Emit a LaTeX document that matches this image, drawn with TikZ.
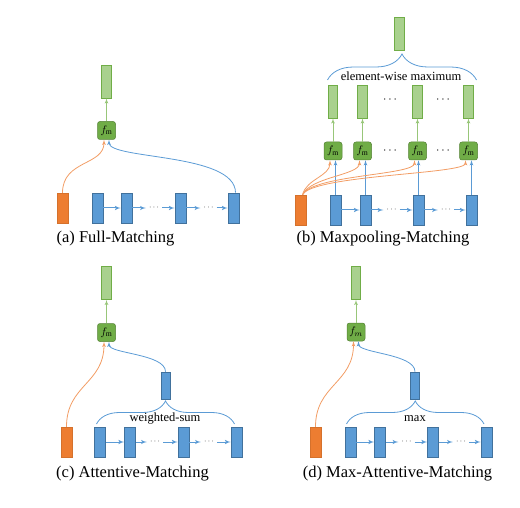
\documentclass[tikz,border=0pt]{standalone}
\usepackage{fontspec}
\setmainfont{Liberation Serif}
\usepackage{tikz}
\usetikzlibrary{arrows, positioning, decorations.pathreplacing}
\definecolor{qorange}{HTML}{ED7D31}
\definecolor{pblue}{HTML}{5B9BD5}
\definecolor{pblueline}{HTML}{41719C}
\definecolor{fmgreen}{HTML}{70AD47}
\definecolor{fmline}{HTML}{548235}
\definecolor{outgreen}{HTML}{A9D18E}
\tikzset{
	qvec/.style={
			rectangle, fill=qorange, draw=qorange!90!black, line width=0.4pt,
			minimum width=11pt, minimum height=30pt, inner sep=0pt},
	pvec/.style={
			rectangle, fill=pblue, draw=pblueline, line width=0.6pt,
			minimum width=11pt, minimum height=30pt, inner sep=0pt},
	avec/.style={pvec, minimum width=9pt, minimum height=27pt},
	outvec/.style={
			rectangle, fill=outgreen, draw=fmgreen, line width=0.6pt,
			minimum width=9.5pt, minimum height=33pt, inner sep=0pt},
	fmbox/.style={
			rectangle, rounded corners=2.5pt, fill=fmgreen, draw=fmline, line width=0.5pt,
			minimum width=18pt, minimum height=18pt, inner sep=0pt,
			font=\fontsize{11}{11}\selectfont},
	chain/.style={->, draw=pblue, line width=1pt},
	qarrow/.style={->, draw=qorange!75!white, line width=0.8pt},
	parrow/.style={->, draw=pblue, line width=0.8pt},
	garrow/.style={->, draw=outgreen!70!fmgreen, line width=0.8pt},
	dotsnode/.style={inner sep=3pt, font=\fontsize{8}{8}\selectfont},
	bigdots/.style={inner sep=0pt, font=\fontsize{12}{12}\selectfont},
	pbrace/.style={draw=pblue, line width=0.8pt, decorate, decoration={brace, amplitude=#1}},
	bracetext/.style={inner sep=0pt, font=\fontsize{12.5}{14}\selectfont},
	caption/.style={inner sep=0pt, font=\fontsize{16.5}{18}\selectfont},
}
\begin{document}
\begin{tikzpicture} [x=1pt, y=-1pt, >=latex']
	\useasboundingbox (0,0) rectangle (520,508);

	% (a) full matching
	\node[qvec] (qa) at (62.5,208) {};
	\node[pvec] (a1) at (97.5,208) {};
	\node[pvec] (a2) at (126.5,208) {};
	\node[pvec] (a3) at (180.5,208) {};
	\node[pvec] (a4) at (233.5,208) {};
	\node[dotsnode] (da1) at (154,208) {$\cdots$};
	\node[dotsnode] (da2) at (208.5,208) {$\cdots$};
	\node[fmbox] (fa) at (106.5,130.5) {$f_{\mathrm{m}}$};
	\node[outvec] (ga) at (106.5,81.5) {};
	\node[caption] (capa) at (115.5,239) {(a) Full-Matching};
	\draw[chain] (a1) -- (a2);
	\draw[chain] (a2) -- (da1);
	\draw[chain] (da1) -- (a3);
	\draw[chain] (a3) -- (da2);
	\draw[chain] (da2) -- (a4);
	\draw[garrow] (fa) -- (ga);
	\draw[qarrow] (qa.north) .. controls +(0,-33) and +(0,26) .. ([xshift=-2.5pt]fa.south);
	\draw[parrow] ([xshift=2pt]a4.north) .. controls +(0,-40) and +(0,20) .. ([xshift=2.5pt]fa.south);

	% (b) maxpooling matching
	\node[qvec] (qb) at (300.5,210) {};
	\node[pvec] (b1) at (335.5,210) {};
	\node[pvec] (b2) at (365.5,210) {};
	\node[pvec] (b3) at (418.5,210) {};
	\node[pvec] (b4) at (471.5,210) {};
	\node[dotsnode] (db1) at (391.5,210) {$\cdots$};
	\node[dotsnode] (db2) at (446,210) {$\cdots$};
	\node[fmbox] (fb1) at (333,151) {$f_{\mathrm{m}}$};
	\node[fmbox] (fb2) at (362.5,151) {$f_{\mathrm{m}}$};
	\node[fmbox] (fb3) at (417.5,151) {$f_{\mathrm{m}}$};
	\node[fmbox] (fb4) at (468.5,151) {$f_{\mathrm{m}}$};
	\node[bigdots] (dfb1) at (390,151) {$\cdots$};
	\node[bigdots] (dfb2) at (443,151) {$\cdots$};
	\node[outvec] (gb1) at (333,101.5) {};
	\node[outvec] (gb2) at (362.5,101.5) {};
	\node[outvec] (gb3) at (417.5,101.5) {};
	\node[outvec] (gb4) at (468.5,101.5) {};
	\node[bigdots] (dgb1) at (390,100) {$\cdots$};
	\node[bigdots] (dgb2) at (443,100) {$\cdots$};
	\node[outvec] (gtop) at (399.5,33.5) {};
	\coordinate (bbl) at (327.5,80);
	\coordinate (bbr) at (476.5,80);
	\draw[pbrace=26pt] (bbl) -- (bbr);
	\node[bracetext] (ewm) at (401,76) {element-wise maximum};
	\node[caption] (capb) at (383,239) {(b) Maxpooling-Matching};
	\draw[chain] (b1) -- (b2);
	\draw[chain] (b2) -- (db1);
	\draw[chain] (db1) -- (b3);
	\draw[chain] (b3) -- (db2);
	\draw[chain] (db2) -- (b4);
	\foreach \i in {1,...,4} {
		\draw[garrow] (fb\i) -- (gb\i);
		\draw[parrow] (b\i.north) -- (b\i.north |- fb\i.south);
	}
	\draw[qarrow] ([xshift=2pt]qb.north) .. controls +(4,-16) and +(0,16) .. ([xshift=-3pt]fb1.south);
	\draw[qarrow] ([xshift=2pt]qb.north) .. controls +(8,-18) and +(0,15) .. ([xshift=-3pt]fb2.south);
	\draw[qarrow] ([xshift=2pt]qb.north) .. controls +(10,-20) and +(0,15) .. ([xshift=-3pt]fb3.south);
	\draw[qarrow] ([xshift=2pt]qb.north) .. controls +(10,-20) and +(0,14) .. ([xshift=-3pt]fb4.south);

	% (c) attentive matching
	\node[qvec] (qc) at (66.5,442) {};
	\node[pvec] (c1) at (100,442) {};
	\node[pvec] (c2) at (130,442) {};
	\node[pvec] (c3) at (183.5,442) {};
	\node[pvec] (c4) at (236.5,442) {};
	\node[dotsnode] (dc1) at (155,442) {$\cdots$};
	\node[dotsnode] (dc2) at (209,442) {$\cdots$};
	\node[fmbox] (fc) at (106.5,332.5) {$f_{\mathrm{m}}$};
	\node[outvec] (gc) at (106.5,283) {};
	\node[avec] (mc) at (165.5,385.5) {};
	\coordinate (cbl) at (96.5,424);
	\coordinate (cbr) at (234.5,424);
	\draw[pbrace=23pt] (cbl) -- (cbr);
	\node[bracetext] (wsum) at (165,419) {weighted-sum};
	\node[caption] (capc) at (132.5,473.5) {(c) Attentive-Matching};
	\draw[chain] (c1) -- (c2);
	\draw[chain] (c2) -- (dc1);
	\draw[chain] (dc1) -- (c3);
	\draw[chain] (c3) -- (dc2);
	\draw[chain] (dc2) -- (c4);
	\draw[garrow] (fc) -- (gc);
	\draw[qarrow] (qc.north) .. controls +(0,-42) and +(0,42) .. ([xshift=-2.5pt]fc.south);
	\draw[parrow] (mc.north) .. controls +(0,-18) and +(0,12) .. ([xshift=2.5pt]fc.south);

	% (d) max-attentive matching
	\node[qvec] (qd) at (315.5,442) {};
	\node[pvec] (d1) at (350.5,442) {};
	\node[pvec] (d2) at (380,442) {};
	\node[pvec] (d3) at (433,442) {};
	\node[pvec] (d4) at (486.5,442) {};
	\node[dotsnode] (dd1) at (406.5,442) {$\cdots$};
	\node[dotsnode] (dd2) at (461,442) {$\cdots$};
	\node[fmbox] (fd) at (356,332) {$f_m$};
	\node[outvec] (gd) at (356,283) {};
	\node[avec] (md) at (415,385.5) {};
	\coordinate (dbl) at (346.5,424);
	\coordinate (dbr) at (484,424);
	\draw[pbrace=23pt] (dbl) -- (dbr);
	\node[bracetext] (maxt) at (415,419) {max};
	\node[caption] (capd) at (397.5,474) {(d) Max-Attentive-Matching};
	\draw[chain] (d1) -- (d2);
	\draw[chain] (d2) -- (dd1);
	\draw[chain] (dd1) -- (d3);
	\draw[chain] (d3) -- (dd2);
	\draw[chain] (dd2) -- (d4);
	\draw[garrow] (fd) -- (gd);
	\draw[qarrow] (qd.north) .. controls +(0,-42) and +(0,42) .. ([xshift=-2.5pt]fd.south);
	\draw[parrow] (md.north) .. controls +(0,-18) and +(0,12) .. ([xshift=2.5pt]fd.south);
\end{tikzpicture}
\end{document}
